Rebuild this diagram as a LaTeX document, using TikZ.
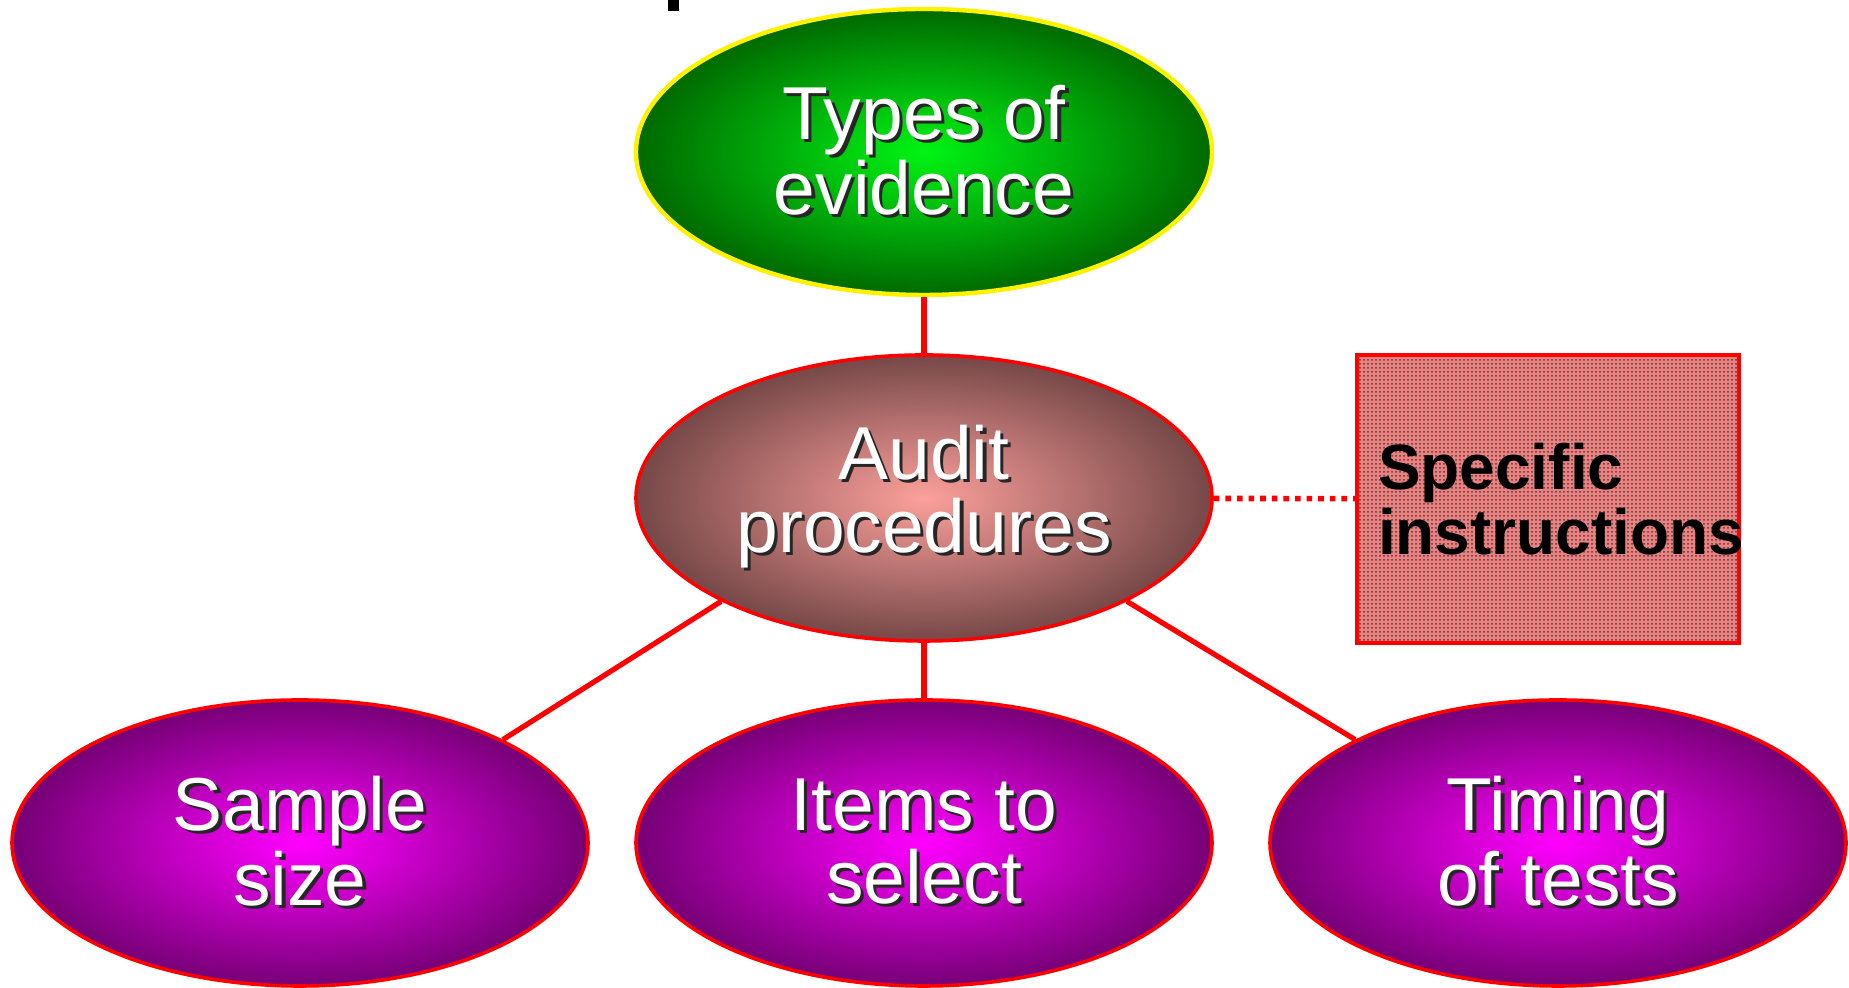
\documentclass[tikz,border=0pt]{standalone}
\usepackage{fontspec}
\setmainfont{Liberation Sans}
\usepackage{tikz}
\usetikzlibrary{shapes.geometric,patterns.meta}

\definecolor{greenin}{RGB}{0,245,20}
\definecolor{greenout}{RGB}{0,105,0}
\definecolor{rosein}{RGB}{252,160,155}
\definecolor{roseout}{RGB}{118,72,72}
\definecolor{purpin}{RGB}{255,0,255}
\definecolor{purpout}{RGB}{118,0,118}
\definecolor{salmonbox}{RGB}{240,128,128}

% white text with a dark drop shadow
\newcommand\shd[1]{\rlap{\kern1.6pt\raisebox{-1.6pt}{\color{black!85}#1}}#1}

\begin{document}
\begin{tikzpicture}[x=0.5pt,y=0.5pt,
  bubble/.style={ellipse,minimum width=288pt,minimum height=143pt,inner sep=0pt,
    line width=1.8pt,draw=red,align=center,text=white,
    font=\fontsize{37.5pt}{36.5pt}\selectfont},
  link/.style={red,line width=2.6pt},
  dotlink/.style={red,line width=2.8pt,dash pattern=on 2.8pt off 3pt}]
\useasboundingbox (0,0) rectangle (1849,988);
\fill (668,977) rectangle (679,988); % cut-off title
\node[bubble,draw=yellow,line width=2.2pt,inner color=greenin,outer color=greenout] (types) at (924,836) {\shd{Types of}\\\shd{evidence}};
\node[bubble,inner color=rosein,outer color=roseout] (audit) at (924,490) {\shd{Audit}\\\shd{procedures}};
\node[bubble,inner color=purpin,outer color=purpout] (sample) at (300,145) {\shd{Sample}\\\shd{size}};
\node[bubble,inner color=purpin,outer color=purpout] (items) at (924,145) {\shd{Items to}\\\shd{select}};
\node[bubble,inner color=purpin,outer color=purpout] (timing) at (1558,145) {\shd{Timing}\\\shd{of tests}};
\node[draw=red,line width=1.6pt,minimum width=191pt,minimum height=144pt,
  preaction={fill=salmonbox},pattern={Dots[distance=2pt,radius=0.5pt]},pattern color=black!75,
  text width=170pt,align=flush left,inner xsep=10.5pt,inner ysep=0pt,
  font=\bfseries\fontsize{32pt}{32.5pt}\selectfont] (instr) at (1548,489) {Specific\\instructions\par\vspace{8pt}};
\draw[link] (types) -- (audit);
\draw[link] (audit) -- (items);
\draw[link] (audit.207) -- (sample.27);
\draw[link] (audit.-27) -- (timing.153);
\draw[dotlink] (audit) -- (instr);
\end{tikzpicture}
\end{document}
